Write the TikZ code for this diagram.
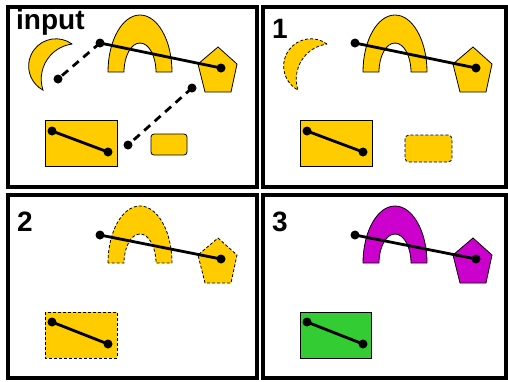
\documentclass[tikz,border=0pt]{standalone}
\usepackage{fontspec}
\setmainfont{Liberation Sans}
\begin{document}
\begin{tikzpicture}[x=1pt,y=-1pt,
  panel/.style={draw=black,line width=4pt},
  shapeline/.style={draw=black,line width=0.8pt},
  dashline/.style={draw=black,line width=0.8pt,dash pattern=on 3pt off 2pt},
  conn/.style={draw=black,line width=2.8pt},
  dconn/.style={draw=black,line width=2.8pt,dash pattern=on 8pt off 6pt},
  dotc/.style={fill=black},
  lbl/.style={inner sep=0pt,anchor=base west,font=\fontsize{28}{28}\selectfont\bfseries}]
\definecolor{ylw}{RGB}{255,204,0}
\definecolor{mgt}{RGB}{204,0,204}
\definecolor{grn}{RGB}{51,204,51}
\useasboundingbox (0,0) rectangle (508,381);
\fill[white] (0,0) rectangle (508,381);
% frames
\draw[panel] (8,7) rectangle (257,187);
\draw[panel] (263,7) rectangle (506,187);
\draw[panel] (8,195) rectangle (257,378);
\draw[panel] (263,195) rectangle (506,378);
% labels
\node[lbl] (l0) at (16,29) {input};
\node[lbl] (l1) at (272,38) {1};
\node[lbl] (l2) at (17,231) {2};
\node[lbl] (l3) at (272,231) {3};

\newcommand\moonpath{(72,44) arc[start angle=-54, end angle=-241.6, radius=27.3] arc[start angle=162, end angle=262.4, radius=35.4] -- cycle}
\newcommand\archpath{(108,72) arc[start angle=180, end angle=360, x radius=32, y radius=57] -- (156,72) arc[start angle=0, end angle=-180, x radius=16, y radius=29] -- cycle}
\newcommand\pentpath{(218,47) -- (237,64) -- (231,92) -- (205,92) -- (198,64) -- cycle}

% ===== panel input =====
\begin{scope}
\path[fill=ylw,shapeline] \moonpath;
\path[fill=ylw,shapeline] \archpath;
\path[fill=ylw,shapeline] \pentpath;
\path[fill=ylw,shapeline] (45,120) rectangle (117,166);
\path[fill=ylw,shapeline,rounded corners=3pt] (151,134) rectangle (187,155);
\coordinate (a0) at (100,43);
\coordinate (b0) at (221,68);
\coordinate (c0) at (58,79);
\coordinate (d0) at (192,88);
\coordinate (e0) at (128,145);
\coordinate (r0) at (52,131);
\coordinate (s0) at (108,152);
\draw[dconn] (a0) -- (c0);
\draw[dconn] (d0) -- (e0);
\draw[conn] (a0) -- (b0);
\draw[conn] (r0) -- (s0);
\foreach \p in {a0,b0,c0,d0,e0,r0,s0} \fill[dotc] (\p) circle (4.5pt);
\end{scope}

% ===== panel 1 =====
\begin{scope}[shift={(255,0)}]
\path[fill=ylw,dashline] \moonpath;
\path[fill=ylw,shapeline] \archpath;
\path[fill=ylw,shapeline] \pentpath;
\path[fill=ylw,shapeline] (45,120) rectangle (117,166);
\path[fill=ylw,dashline,rounded corners=4pt] (150,135) rectangle (197,162);
\coordinate (a1) at (100,43);
\coordinate (b1) at (221,68);
\coordinate (r1) at (52,131);
\coordinate (s1) at (108,152);
\draw[conn] (a1) -- (b1);
\draw[conn] (r1) -- (s1);
\foreach \p in {a1,b1,r1,s1} \fill[dotc] (\p) circle (4.5pt);
\end{scope}

% ===== panel 2 =====
\begin{scope}[shift={(0,191)}]
\path[fill=ylw,dashline] \archpath;
\path[fill=ylw,dashline] \pentpath;
\path[fill=ylw,dashline] (45,121) rectangle (117,167);
\coordinate (a2) at (100,44);
\coordinate (b2) at (221,68);
\coordinate (r2) at (52,131);
\coordinate (s2) at (108,153);
\draw[conn] (a2) -- (b2);
\draw[conn] (r2) -- (s2);
\foreach \p in {a2,b2,r2,s2} \fill[dotc] (\p) circle (4.5pt);
\end{scope}

% ===== panel 3 =====
\begin{scope}[shift={(255,191)}]
\path[fill=mgt,shapeline] \archpath;
\path[fill=mgt,shapeline] \pentpath;
\path[fill=grn,shapeline] (45,121) rectangle (116,167);
\coordinate (a3) at (100,44);
\coordinate (b3) at (221,68);
\coordinate (r3) at (52,131);
\coordinate (s3) at (108,153);
\draw[conn] (a3) -- (b3);
\draw[conn] (r3) -- (s3);
\foreach \p in {a3,b3,r3,s3} \fill[dotc] (\p) circle (4.5pt);
\end{scope}
\end{tikzpicture}
\end{document}
